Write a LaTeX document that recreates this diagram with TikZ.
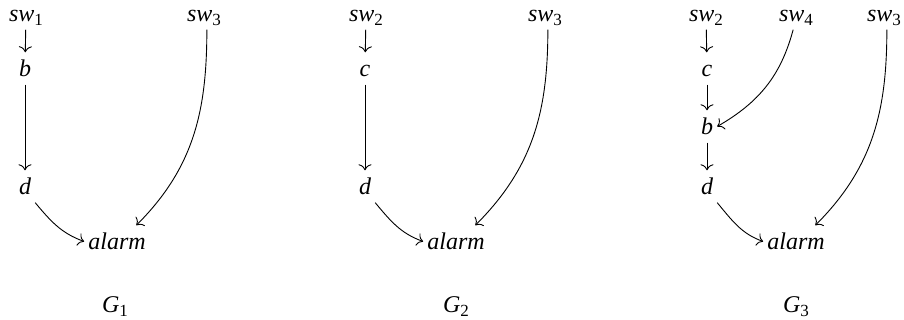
\documentclass[tikz,border=0pt]{standalone}
\usepackage{fontspec}
\setmainfont{Liberation Serif}
\usetikzlibrary{arrows.meta}
\newcommand\mysub[1]{\raisebox{-4pt}{\fontsize{17}{17}\selectfont\upshape #1}}
\begin{document}
\begin{tikzpicture}[x=1pt,y=1pt,
  v/.style={anchor=base,inner xsep=4pt,inner ysep=7.5pt,text height=17pt,text depth=0pt,font=\fontsize{24}{28}\selectfont\itshape},
  glabel/.style={anchor=base,inner sep=0pt,font=\fontsize{24}{28}\selectfont\itshape},
  arr/.style={-{Computer Modern Rightarrow[length=6pt,width=13pt]},line width=0.9pt}]
\useasboundingbox (0,0) rectangle (904,320);
% G1
\node[v] (a1) at (26,298) {sw\mysub{1}};
\node[v] (b1) at (25,243) {b};
\node[v] (d1) at (25,125) {d};
\node[v] (al1) at (117,70) {alarm};
\node[v] (s31) at (204,298) {sw\mysub{3}};
\node[glabel] (g1) at (115,7) {G\mysub{1}};
\draw[arr] (a1) -- (b1);
\draw[arr] (b1) -- (d1);
\draw[arr] (d1.south east) to[out=-50,in=160] (al1.west);
\draw[arr] (s31.-80) to[out=-90,in=45] (al1.40);
% G2
\node[v] (a2) at (366,298) {sw\mysub{2}};
\node[v] (c2) at (365,243) {c};
\node[v] (d2) at (365,125) {d};
\node[v] (al2) at (456,70) {alarm};
\node[v] (s32) at (545,298) {sw\mysub{3}};
\node[glabel] (g2) at (456,7) {G\mysub{2}};
\draw[arr] (a2) -- (c2);
\draw[arr] (c2) -- (d2);
\draw[arr] (d2.south east) to[out=-50,in=160] (al2.west);
\draw[arr] (s32.-80) to[out=-90,in=45] (al2.40);
% G3
\node[v] (a3) at (706,298) {sw\mysub{2}};
\node[v] (w3) at (796,298) {sw\mysub{4}};
\node[v] (s33) at (884,298) {sw\mysub{3}};
\node[v] (c3) at (707,243) {c};
\node[v] (b3) at (707,185) {b};
\node[v] (d3) at (707,125) {d};
\node[v] (al3) at (796,70) {alarm};
\node[glabel] (g3) at (796,7) {G\mysub{3}};
\draw[arr] (a3) -- (c3);
\draw[arr] (c3) -- (b3);
\draw[arr] (b3) -- (d3);
\draw[arr] (w3.-100) to[out=-105,in=30] (b3.east);
\draw[arr] (d3.south east) to[out=-50,in=160] (al3.west);
\draw[arr] (s33.-80) to[out=-90,in=45] (al3.40);
\end{tikzpicture}
\end{document}
